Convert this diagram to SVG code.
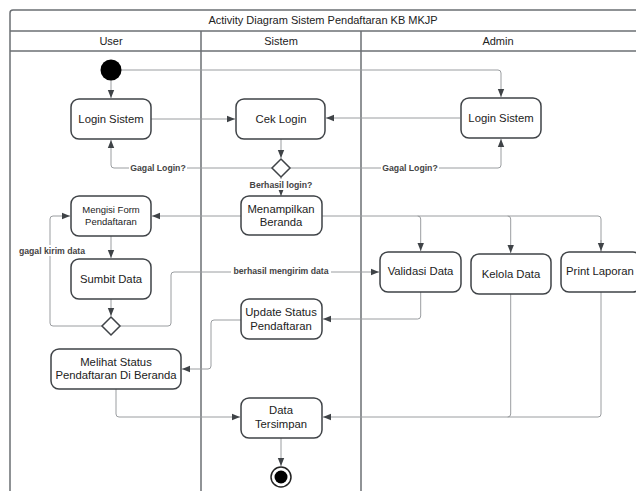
<svg xmlns="http://www.w3.org/2000/svg" width="636" height="491" viewBox="0 0 636 491">
<defs>
<style>
.lane{fill:none;stroke:#6b6f73;stroke-width:1.5}
.node rect{fill:#fff;stroke:#3f4347;stroke-width:1.5}
.t{font-family:"Liberation Sans",Arial,sans-serif;font-size:11.3px;fill:#222;text-anchor:middle}
.ts{font-family:"Liberation Sans",Arial,sans-serif;font-size:9.5px;fill:#222;text-anchor:middle}
.h{font-family:"Liberation Sans",Arial,sans-serif;font-size:11px;fill:#222;text-anchor:middle}
.lbl{font-family:"Liberation Sans",Arial,sans-serif;font-size:8.7px;font-weight:bold;fill:#444;text-anchor:middle}
.c{fill:none;stroke:#9a9da0;stroke-width:1}
</style>
<marker id="a" viewBox="0 0 10 10" refX="10" refY="5" markerWidth="8" markerHeight="8" orient="auto" markerUnits="userSpaceOnUse">
<path d="M0,1 L10,5 L0,9 z" fill="#3f4347"/>
</marker>
</defs>
<rect width="636" height="491" fill="#fff"/>
<g id="swimlanes">
<path class="lane" d="M10,495 V13 Q10,10 13,10 H640"/>
<line class="lane" x1="10" y1="31" x2="640" y2="31"/>
<line class="lane" x1="10" y1="51" x2="640" y2="51"/>
<line class="lane" x1="201" y1="31" x2="201" y2="495"/>
<line class="lane" x1="361" y1="31" x2="361" y2="495"/>
<text class="h" x="323" y="24">Activity Diagram Sistem Pendaftaran KB MKJP</text>
<text class="h" x="111" y="45">User</text>
<text class="h" x="281" y="45">Sistem</text>
<text class="h" x="498" y="45">Admin</text>
</g>
<g id="connectors">
<path class="c" d="M121,70 H498 Q501,70 501,73 V97" marker-end="url(#a)"/>
<path class="c" d="M111,80 V98" marker-end="url(#a)"/>
<path class="c" d="M151,119 H235" marker-end="url(#a)"/>
<path class="c" d="M460,118 H326" marker-end="url(#a)"/>
<path class="c" d="M281,139 V158" marker-end="url(#a)"/>
<path class="c" d="M272,168 H114 Q111,168 111,165 V140" marker-end="url(#a)"/>
<path class="c" d="M290,168 H498 Q501,168 501,165 V139" marker-end="url(#a)"/>
<path class="c" d="M281,177 V196" marker-end="url(#a)"/>
<path class="c" d="M241,216 H152" marker-end="url(#a)"/>
<path class="c" d="M322,216 H598 Q601,216 601,219 V252"/>
<path class="c" d="M417.7,216 Q420.7,216 420.7,219 V251" marker-end="url(#a)"/>
<path class="c" d="M507.7,216 Q510.7,216 510.7,219 V253" marker-end="url(#a)"/>
<path class="c" d="M601,240 V251" marker-end="url(#a)"/>
<path class="c" d="M111,236 V258" marker-end="url(#a)"/>
<path class="c" d="M111,299 V316" marker-end="url(#a)"/>
<path class="c" d="M102,326 H53 Q50,326 50,323 V219 Q50,216 53,216 H70" marker-end="url(#a)"/>
<path class="c" d="M120,326 H168 Q171,326 171,323 V275 Q171,272 174,272 H379" marker-end="url(#a)"/>
<path class="c" d="M420.7,292 V316 Q420.7,319 417.7,319 H323" marker-end="url(#a)"/>
<path class="c" d="M241,320 H214 Q211,320 211,323 V366 Q211,369 208,369 H182" marker-end="url(#a)"/>
<path class="c" d="M116,389 V414 Q116,417 119,417 H240" marker-end="url(#a)"/>
<path class="c" d="M510.7,294 V414 Q510.7,417 507.7,417"/>
<path class="c" d="M601,292 V414 Q601,417 598,417 H323" marker-end="url(#a)"/>
<path class="c" d="M281,438 V466" marker-end="url(#a)"/>
<rect x="129" y="162" width="58" height="11" fill="#fff"/>
<text class="lbl" x="158" y="171">Gagal  Login?</text>
<rect x="381" y="162" width="58" height="11" fill="#fff"/>
<text class="lbl" x="410" y="171">Gagal Login?</text>
<rect x="246" y="179" width="70" height="11" fill="#fff"/>
<text class="lbl" x="281" y="188">Berhasil login?</text>
<rect x="17" y="245" width="70" height="11" fill="#fff"/>
<text class="lbl" x="52" y="254">gagal kirim data</text>
<rect x="231" y="266" width="100" height="11" fill="#fff"/>
<text class="lbl" x="281" y="274">berhasil mengirim data</text>
</g>
<g id="start"><circle cx="111" cy="70" r="10.5" fill="#000"/></g>
<g id="login-user" class="node"><rect x="71" y="99" width="80" height="40" rx="8"/><text class="t" x="111" y="123">Login Sistem</text></g>
<g id="cek-login" class="node"><rect x="236" y="99" width="89" height="40" rx="8"/><text class="t" x="281" y="123">Cek Login</text></g>
<g id="login-admin" class="node"><rect x="461" y="98" width="80" height="40" rx="8"/><text class="t" x="501" y="122">Login Sistem</text></g>
<g id="decision-login"><path d="M281,159 L290,168 L281,177 L272,168 Z" fill="#fff" stroke="#3f4347" stroke-width="1.5"/></g>
<g id="menampilkan-beranda" class="node"><rect x="241" y="196" width="81" height="39" rx="8"/><text class="t" x="281" y="213">Menampilkan</text><text class="t" x="281" y="226">Beranda</text></g>
<g id="mengisi-form" class="node"><rect x="71" y="196" width="80" height="40" rx="8"/><text class="ts" x="111" y="213">Mengisi Form</text><text class="ts" x="111" y="225">Pendaftaran</text></g>
<g id="sumbit-data" class="node"><rect x="71" y="259" width="80" height="40" rx="8"/><text class="t" x="111" y="283">Sumbit Data</text></g>
<g id="decision-kirim"><path d="M111,317 L120,326 L111,335 L102,326 Z" fill="#fff" stroke="#3f4347" stroke-width="1.5"/></g>
<g id="validasi-data" class="node"><rect x="380" y="252" width="81" height="40" rx="8"/><text class="t" x="420.5" y="275">Validasi Data</text></g>
<g id="kelola-data" class="node"><rect x="471" y="254" width="80" height="40" rx="8"/><text class="t" x="511" y="278">Kelola Data</text></g>
<g id="print-laporan" class="node"><rect x="561" y="252" width="80" height="40" rx="8"/><text class="t" x="600" y="275">Print Laporan</text></g>
<g id="update-status" class="node"><rect x="241" y="299" width="81" height="40" rx="8"/><text class="t" x="281" y="316">Update Status</text><text class="t" x="281" y="330">Pendaftaran</text></g>
<g id="melihat-status" class="node"><rect x="51" y="349" width="130" height="40" rx="8"/><text class="t" x="116" y="366">Melihat Status</text><text class="t" x="116" y="379">Pendaftaran Di Beranda</text></g>
<g id="data-tersimpan" class="node"><rect x="241" y="398" width="81" height="40" rx="8"/><text class="t" x="281" y="414">Data</text><text class="t" x="281" y="428">Tersimpan</text></g>
<g id="end"><circle cx="281" cy="477" r="10" fill="#fff" stroke="#222" stroke-width="1.5"/><circle cx="281" cy="477" r="6.5" fill="#000"/></g>
</svg>
